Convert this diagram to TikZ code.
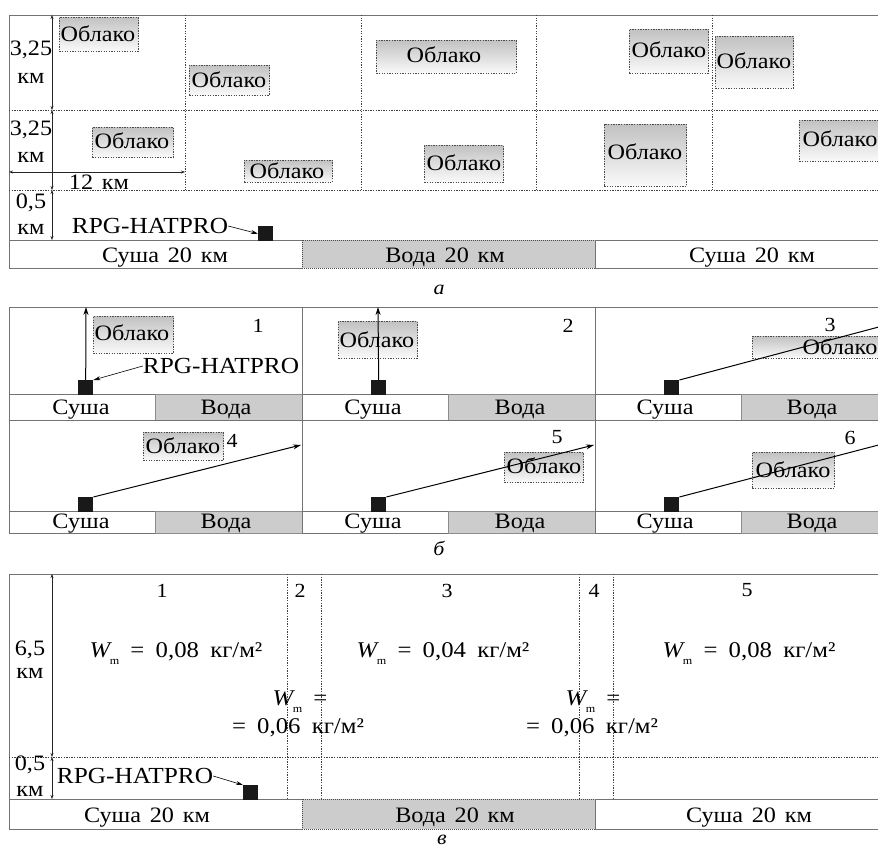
\documentclass[tikz,border=0pt]{standalone}
\usepackage{fontspec}
\setmainfont{Liberation Serif}[FakeStretch=1.1]
\usetikzlibrary{arrows.meta}

\tikzset{
  outline/.style={draw=black!55, line width=0.9pt},
  gridline/.style={draw=black!75, line width=0.6pt, dash pattern=on 1.3pt off 1.3pt},
  cloudbox/.style={draw=black!70, line width=0.6pt, dash pattern=on 1.3pt off 1.3pt,
    top color=black!24, bottom color=black!2, inner sep=0pt, anchor=north west},
  land/.style={draw=black!55, line width=0.9pt, fill=white, inner sep=0pt, anchor=north west},
  water/.style={draw=black!70, line width=0.7pt, dash pattern=on 1pt off 1pt, fill=black!20,
    inner sep=0pt, anchor=north west},
  waterb/.style={draw=black!45, line width=0.6pt, fill=black!20, inner sep=0pt, anchor=north west},
  lbl/.style={font=\fontsize{22}{24}\selectfont, inner sep=0pt},
  ground/.style={font=\fontsize{22}{24}\selectfont, inner sep=0pt, anchor=base},
  device/.style={font=\fontsize{23}{25}\selectfont, inner sep=0pt},
  formula/.style={font=\fontsize{22.5}{24}\selectfont, inner sep=0pt, anchor=base},
  num/.style={font=\fontsize{20}{22}\selectfont, inner sep=0pt},
  caption/.style={font=\fontsize{20}{22}\selectfont\itshape, inner sep=0pt},
  dim/.style={draw=black!85, line width=0.5pt, {Stealth[length=4pt,width=3pt]}-{Stealth[length=4pt,width=3pt]}},
  beam/.style={draw=black, line width=1pt, -{Stealth[length=8pt,width=5pt]}},
  pointer/.style={draw=black, line width=0.6pt, -{Stealth[length=7pt,width=4pt]}},
  radiometer/.style={fill=black!90, draw=none, minimum size=15pt, inner sep=0pt, anchor=north west},
}
\newcommand{\wsp}{\hspace{0.4em}}
\newcommand{\fsp}{\hspace{0.5em}}
\newcommand{\Wm}{\textit{W}\kern-0.1em\raisebox{-0.35em}{\fontsize{11}{11}\selectfont m}}

\begin{document}
\begin{tikzpicture}[x=1pt,y=-1pt]
\useasboundingbox (0,0) rectangle (878,851);

% ================= panel a =================
\draw[outline] (9,268) -- (9,15) -- (878,15);
\foreach \yy in {110,190} \draw[gridline] (9,\yy) -- (878,\yy);
\foreach \xx in {185,361,536,712} \draw[gridline] (\xx,15) -- (\xx,190);

% ground strip
\node[land, minimum width=293pt, minimum height=28pt] (aG1) at (9,240) {};
\node[water, minimum width=293pt, minimum height=28pt] (aG2) at (302,240) {};
\node[land, minimum width=300pt, minimum height=28pt] (aG3) at (595,240) {};
\node[ground] (aT1) at (165,262) {Суша\wsp 20\wsp км};
\node[ground] (aT2) at (445,262) {Вода\wsp 20\wsp км};
\node[ground] (aT3) at (752,262) {Суша\wsp 20\wsp км};

% clouds
\node[cloudbox, minimum width=79pt, minimum height=34pt] (ac1) at (59,17) {};
\node[lbl] (ac1t) at (98,34) {Облако};
\node[cloudbox, minimum width=80pt, minimum height=30pt] (ac2) at (189,65) {};
\node[lbl] (ac2t) at (229,80) {Облако};
\node[cloudbox, minimum width=140pt, minimum height=33pt] (ac3) at (376,40) {};
\node[lbl] (ac3t) at (444,55) {Облако};
\node[cloudbox, minimum width=79pt, minimum height=44pt] (ac4) at (629,29) {};
\node[lbl] (ac4t) at (669,50) {Облако};
\node[cloudbox, minimum width=78pt, minimum height=52pt] (ac5) at (715,36) {};
\node[lbl] (ac5t) at (754,61) {Облако};
\node[cloudbox, minimum width=81pt, minimum height=30pt] (ac6) at (92,127) {};
\node[lbl] (ac6t) at (132,141) {Облако};
\node[cloudbox, minimum width=88pt, minimum height=22pt] (ac7) at (244,160) {};
\node[lbl] (ac7t) at (287,171) {Облако};
\node[cloudbox, minimum width=79pt, minimum height=37pt] (ac8) at (424,145) {};
\node[lbl] (ac8t) at (464,163) {Облако};
\node[cloudbox, minimum width=82pt, minimum height=62pt] (ac9) at (604,124) {};
\node[lbl] (ac9t) at (645,152) {Облако};
\node[cloudbox, minimum width=84pt, minimum height=41pt] (ac10) at (799,120) {};
\node[lbl] (ac10t) at (840,139) {Облако};

% dimensions
\coordinate (aD0) at (52,15);
\coordinate (aD1) at (52,110);
\coordinate (aD2) at (52,190);
\coordinate (aD3) at (52,240);
\draw[dim] (aD0) -- (aD1);
\draw[dim] (aD1) -- (aD2);
\draw[dim] (aD2) -- (aD3);
\coordinate (aH0) at (9,172);
\coordinate (aH1) at (185,172);
\draw[dim] (aH0) -- (aH1);
\node[lbl] (aL1) at (31,50) {3,25};
\node[lbl] (aL1k) at (31,78) {км};
\node[lbl] (aL2) at (31,130) {3,25};
\node[lbl] (aL2k) at (31,157) {км};
\node[lbl] (aL3) at (31,203) {0,5};
\node[lbl] (aL3k) at (31,229) {км};
\node[lbl] (aL4) at (99,182) {12\wsp км};

% radiometer
\node[radiometer] (aR) at (258,226) {};
\node[device] (aRt) at (150,226) {RPG-HATPRO};
\draw[pointer] (aRt.east) -- (aR.west);

\node[caption] (capA) at (439,290) {а};

% ================= panel б =================
\draw[outline] (9,533) -- (9,307) -- (878,307);
\draw[outline] (9,533) -- (878,533);
\draw[outline] (302,307) -- (302,533);
\draw[outline] (595,307) -- (595,533);

% ground strips, two rows of three scenes
\foreach \gy/\gh/\row in {394/26/1,511/22/2}{
  \node[land, minimum width=146pt, minimum height=\gh pt] (bL\row a) at (9,\gy) {};
  \node[waterb, minimum width=147pt, minimum height=\gh pt] (bW\row a) at (155,\gy) {};
  \node[land, minimum width=146pt, minimum height=\gh pt] (bL\row b) at (302,\gy) {};
  \node[waterb, minimum width=147pt, minimum height=\gh pt] (bW\row b) at (448,\gy) {};
  \node[land, minimum width=146pt, minimum height=\gh pt] (bL\row c) at (595,\gy) {};
  \node[waterb, minimum width=147pt, minimum height=\gh pt] (bW\row c) at (741,\gy) {};
}
\foreach \ty/\row in {414/1,528/2}{
  \node[ground] (bT\row a) at (81,\ty) {Суша};
  \node[ground] (bU\row a) at (226,\ty) {Вода};
  \node[ground] (bT\row b) at (373,\ty) {Суша};
  \node[ground] (bU\row b) at (520,\ty) {Вода};
  \node[ground] (bT\row c) at (665,\ty) {Суша};
  \node[ground] (bU\row c) at (812,\ty) {Вода};
}
\draw[outline] (9,420) -- (878,420);

% clouds
\node[cloudbox, minimum width=80pt, minimum height=37pt] (bc1) at (93,316) {};
\node[lbl] (bc1t) at (132,333) {Облако};
\node[cloudbox, minimum width=79pt, minimum height=37pt] (bc2) at (338,321) {};
\node[lbl] (bc2t) at (377,340) {Облако};
\node[cloudbox, minimum width=130pt, minimum height=22pt] (bc3) at (752,336) {};
\node[lbl] (bc3t) at (840,347) {Облако};
\node[cloudbox, minimum width=80pt, minimum height=28pt] (bc4) at (143,432) {};
\node[lbl] (bc4t) at (183,446) {Облако};
\node[cloudbox, minimum width=79pt, minimum height=30pt] (bc5) at (504,452) {};
\node[lbl] (bc5t) at (544,466) {Облако};
\node[cloudbox, minimum width=82pt, minimum height=36pt] (bc6) at (752,452) {};
\node[lbl] (bc6t) at (793,470) {Облако};

% radiometers and viewing directions
\node[radiometer] (bR1) at (78,380) {};
\node[radiometer] (bR2) at (371,380) {};
\node[radiometer] (bR3) at (664,380) {};
\node[radiometer] (bR4) at (78,497) {};
\node[radiometer] (bR5) at (371,497) {};
\node[radiometer] (bR6) at (664,497) {};
\coordinate (bE1) at (86,307);
\coordinate (bE2) at (378,307);
\coordinate (bE3) at (890,324);
\coordinate (bE4) at (301,445);
\coordinate (bE5) at (594,445);
\coordinate (bE6) at (890,442);
\draw[beam] (bR1.north) -- (bE1);
\draw[beam] (bR2.north) -- (bE2);
\draw[beam] (bR3.north east) -- (bE3);
\draw[beam] (bR4.north east) -- (bE4);
\draw[beam] (bR5.north east) -- (bE5);
\draw[beam] (bR6.north east) -- (bE6);

\node[device] (bRt) at (221,366) {RPG-HATPRO};
\draw[pointer] (bRt.west) -- (bR1.north east);

\node[num] (bN1) at (258,326) {1};
\node[num] (bN2) at (568,326) {2};
\node[num] (bN3) at (830,325) {3};
\node[num] (bN4) at (232,441) {4};
\node[num] (bN5) at (557,437) {5};
\node[num] (bN6) at (850,438) {6};

\node[caption] (capB) at (439,548) {б};

% ================= panel в =================
\draw[outline] (9,829) -- (9,574) -- (878,574);
\draw[gridline] (9,757) -- (878,757);
\foreach \xx in {287,321,579,613} \draw[gridline] (\xx,574) -- (\xx,799);

\node[land, minimum width=293pt, minimum height=30pt] (cG1) at (9,799) {};
\node[water, minimum width=293pt, minimum height=30pt] (cG2) at (302,799) {};
\node[land, minimum width=300pt, minimum height=30pt] (cG3) at (595,799) {};
\node[ground] (cT1) at (147,822) {Суша\wsp 20\wsp км};
\node[ground] (cT2) at (455,822) {Вода\wsp 20\wsp км};
\node[ground] (cT3) at (749,822) {Суша\wsp 20\wsp км};

\coordinate (cD0) at (52,574);
\coordinate (cD1) at (52,757);
\coordinate (cD2) at (52,799);
\draw[dim] (cD0) -- (cD1);
\draw[dim] (cD1) -- (cD2);
\node[lbl] (cL1) at (30,650) {6,5};
\node[lbl] (cL1k) at (30,673) {км};
\node[lbl] (cL2) at (30,765) {0,5};
\node[lbl] (cL2k) at (30,791) {км};

\node[num] (cN1) at (162,591) {1};
\node[num] (cN2) at (300,591) {2};
\node[num] (cN3) at (447,591) {3};
\node[num] (cN4) at (594,591) {4};
\node[num] (cN5) at (747,590) {5};

\node[formula] (cW1) at (176,657) {\Wm\fsp=\fsp 0,08\fsp кг/м²};
\node[formula] (cW3) at (443,657) {\Wm\fsp=\fsp 0,04\fsp кг/м²};
\node[formula] (cW5) at (749,657) {\Wm\fsp=\fsp 0,08\fsp кг/м²};
\node[formula] (cW2a) at (300,705) {\Wm\fsp=};
\node[formula] (cW2b) at (298,733) {=\fsp 0,06\fsp кг/м²};
\node[formula] (cW4a) at (593,705) {\Wm\fsp=};
\node[formula] (cW4b) at (592,733) {=\fsp 0,06\fsp кг/м²};

\node[radiometer] (cR) at (243,785) {};
\node[device] (cRt) at (135,776) {RPG-HATPRO};
\draw[pointer] (cRt.east) -- (cR.north west);

\node[caption] (capC) at (442,840) {в};
\end{tikzpicture}
\end{document}
